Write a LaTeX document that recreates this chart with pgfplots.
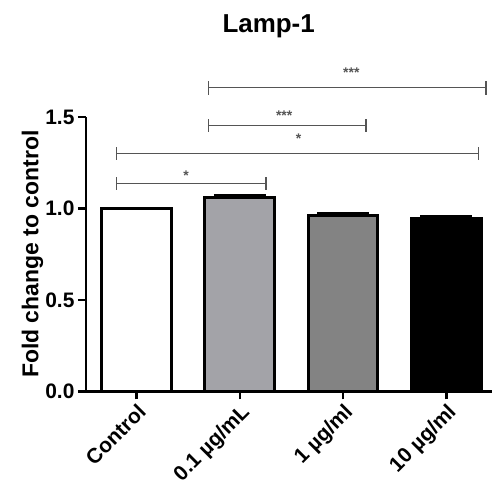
\documentclass[border=0pt]{standalone}
\usepackage{fontspec}
\setmainfont{Liberation Sans}
\usepackage{pgfplots}
\pgfplotsset{compat=1.18}
\definecolor{barA}{HTML}{A3A3A8}
\definecolor{barB}{HTML}{838383}
\definecolor{sig}{HTML}{555555}
\begin{document}
\begin{tikzpicture}
\begin{axis}[
  scale only axis,
  width=203.5pt, height=137.5pt,
  xmin=-0.49, xmax=3.44, ymin=0, ymax=1.5,
  axis x line=bottom, axis y line=left,
  axis line style={line width=1.2pt, -},
  x axis line style={-}, y axis line style={-},
  xtick={0,1,2,3},
  xticklabels={Control, {0.1 \textmu g/mL}, {1 \textmu g/ml}, {10 \textmu g/ml}},
  x tick label style={rotate=45, anchor=north east, font=\bfseries\fontsize{10.5}{11}\selectfont, inner sep=1pt},
  ytick={0,0.5,1,1.5},
  yticklabel style={/pgf/number format/fixed, /pgf/number format/fixed zerofill, /pgf/number format/precision=1, font=\bfseries\fontsize{10.5}{11}\selectfont, inner sep=1.5pt},
  /pgf/number format/assume math mode=true,
  tick style={line width=1.2pt, black},
  tick align=outside, major tick length=4pt,
  ylabel={\bfseries Fold change to control},
  ylabel style={font=\fontsize{11.5}{12}\selectfont, yshift=-4pt},
  ybar, bar width=35pt, bar shift=0pt,
  clip=false,
]
\addplot[draw=black, line width=1.5pt, fill=white] coordinates {(0,1.0)};
\addplot[draw=black, line width=1.5pt, fill=barA,
  error bars/.cd, y dir=plus, y explicit,
  error bar style={line width=1.5pt},
  error mark options={rotate=90, mark size=13pt, line width=1.5pt}]
  coordinates {(1,1.06) +- (0,0.012)};
\addplot[draw=black, line width=1.5pt, fill=barB,
  error bars/.cd, y dir=plus, y explicit,
  error bar style={line width=1.5pt},
  error mark options={rotate=90, mark size=13pt, line width=1.5pt}]
  coordinates {(2,0.96) +- (0,0.012)};
\addplot[draw=black, line width=1.5pt, fill=black,
  error bars/.cd, y dir=plus, y explicit,
  error bar style={line width=1.5pt},
  error mark options={rotate=90, mark size=13pt, line width=1.5pt}]
  coordinates {(3,0.945) +- (0,0.01)};
% significance brackets
\draw[sig, line width=0.7pt, |-|] (axis cs:-0.2,1.137) -- (axis cs:1.26,1.137);
\draw[sig, line width=0.7pt, |-|] (axis cs:-0.2,1.30) -- (axis cs:3.32,1.30);
\draw[sig, line width=0.7pt, |-|] (axis cs:0.69,1.453) -- (axis cs:2.23,1.453);
\draw[sig, line width=0.7pt, |-|] (axis cs:0.69,1.66) -- (axis cs:3.39,1.66);
\node[font=\bfseries\fontsize{7}{8}\selectfont, text=sig] at (axis cs:0.48,1.18) {*};
\node[font=\bfseries\fontsize{7}{8}\selectfont, text=sig] at (axis cs:1.57,1.38) {*};
\node[font=\bfseries\fontsize{7}{8}\selectfont, text=sig] at (axis cs:1.43,1.51) {***};
\node[font=\bfseries\fontsize{7}{8}\selectfont, text=sig] at (axis cs:2.08,1.74) {***};
\node[font=\bfseries\fontsize{13}{14}\selectfont] at (axis cs:1.28,1.995) {Lamp-1};
\coordinate (tl) at (axis cs:-0.49,2.14);
\end{axis}
% keep the reference's white margins
\path (tl) ++(-43pt,0) rectangle ++(0.1pt,-0.1pt);
\end{tikzpicture}
\end{document}
